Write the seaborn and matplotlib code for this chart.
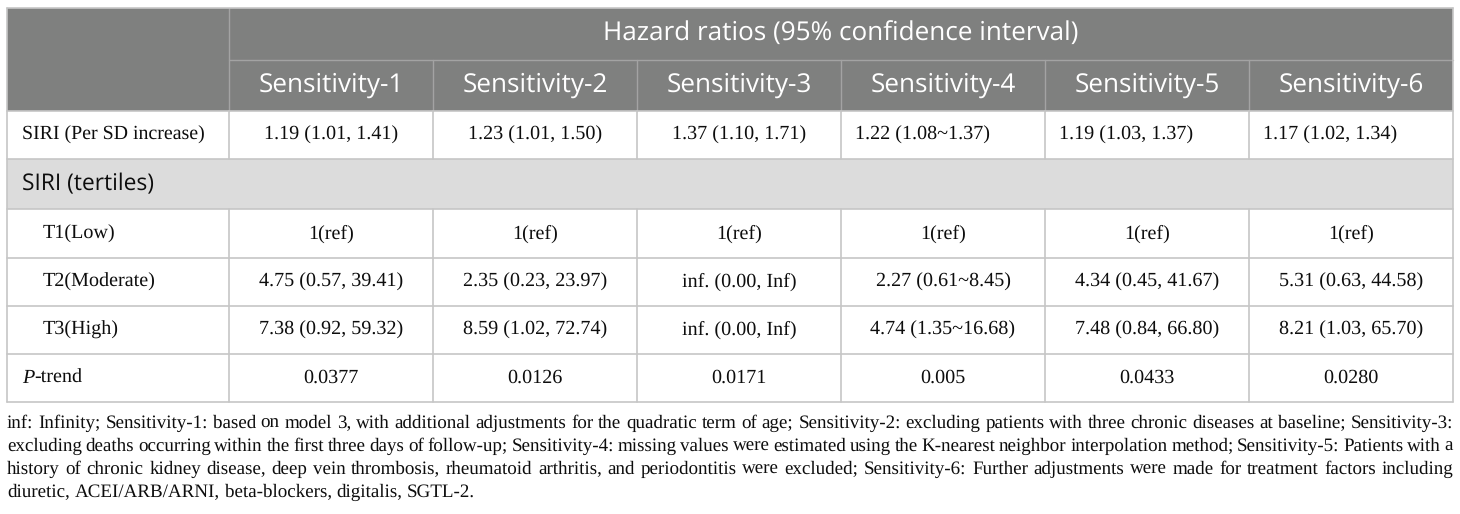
import matplotlib
matplotlib.use("Agg")
import matplotlib.pyplot as plt
from matplotlib.patches import Rectangle
import seaborn as sns

sns.set_theme(style="white")
plt.rcParams["text.hinting"] = "no_hinting"

# data
group_title = "Hazard ratios (95% confidence interval)"
models = ["Sensitivity-1", "Sensitivity-2", "Sensitivity-3",
          "Sensitivity-4", "Sensitivity-5", "Sensitivity-6"]
per_sd = ["1.19 (1.01, 1.41)", "1.23 (1.01, 1.50)", "1.37 (1.10, 1.71)",
          "1.22 (1.08~1.37)", "1.19 (1.03, 1.37)", "1.17 (1.02, 1.34)"]
section_label = "SIRI (tertiles)"
tertile_labels = ["T1(Low)", "T2(Moderate)", "T3(High)"]
t1 = ["1(ref)"] * 6
t2 = ["4.75 (0.57, 39.41)", "2.35 (0.23, 23.97)", "inf. (0.00, Inf)",
      "2.27 (0.61~8.45)", "4.34 (0.45, 41.67)", "5.31 (0.63, 44.58)"]
t3 = ["7.38 (0.92, 59.32)", "8.59 (1.02, 72.74)", "inf. (0.00, Inf)",
      "4.74 (1.35~16.68)", "7.48 (0.84, 66.80)", "8.21 (1.03, 65.70)"]
p_trend = ["0.0377", "0.0126", "0.0171", "0.005", "0.0433", "0.0280"]
footnote_lines = [
    "inf: Infinity; Sensitivity-1: based on model 3, with additional adjustments for the quadratic term of age; "
    "Sensitivity-2: excluding patients with three chronic diseases at baseline; Sensitivity-3:",
    "excluding deaths occurring within the first three days of follow-up; Sensitivity-4: missing values were "
    "estimated using the K-nearest neighbor interpolation method; Sensitivity-5: Patients with a",
    "history of chronic kidney disease, deep vein thrombosis, rheumatoid arthritis, and periodontitis were "
    "excluded; Sensitivity-6: Further adjustments were made for treatment factors including",
    "diuretic, ACEI/ARB/ARNI, beta-blockers, digitalis, SGTL-2.",
]

# layout (pixels)
W, H = 1460, 514
xs = [7, 229, 433, 637, 841, 1045, 1249, 1453]
ys = [8, 60, 111, 159, 209, 258, 306, 354, 402]
HEAD_BG = "#7f807f"
SEC_BG = "#dcdcdc"
LINE = "#c6c6c6"
HEAD_LINE = "#a3a3a3"
SANS = "Open Sans"
SERIF = "Liberation Serif"
TEXT = "#0d0d0d"
HEAD_FS = 18.8
BODY_FS = 14.5

fig = plt.figure(figsize=(W / 100, H / 100), dpi=100)
ax = fig.add_axes([0, 0, 1, 1])
ax.set_xlim(0, W)
ax.set_ylim(H, 0)
ax.axis("off")
renderer = fig.canvas.get_renderer()

# backgrounds
ax.add_patch(Rectangle((xs[0], ys[0]), xs[-1] - xs[0], ys[2] - ys[0], color=HEAD_BG, lw=0))
ax.add_patch(Rectangle((xs[0], ys[3]), xs[-1] - xs[0], ys[4] - ys[3], color=SEC_BG, lw=0))

# header lines
ax.plot([xs[1], xs[-1]], [ys[1], ys[1]], color=HEAD_LINE, lw=1)
ax.plot([xs[1], xs[1]], [ys[0], ys[2]], color=HEAD_LINE, lw=1)
for x in xs[2:-1]:
    ax.plot([x, x], [ys[1], ys[2]], color=HEAD_LINE, lw=1)

# body grid
for y in ys[2:]:
    ax.plot([xs[0], xs[-1]], [y, y], color=LINE, lw=1.2)
for x in xs[1:-1]:
    ax.plot([x, x], [ys[2], ys[3]], color=LINE, lw=1.2)
    ax.plot([x, x], [ys[4], ys[-1]], color=LINE, lw=1.2)
for x in (xs[0], xs[-1]):
    ax.plot([x, x], [ys[0], ys[-1]], color=LINE, lw=1.2)
ax.plot([xs[0], xs[-1]], [ys[0], ys[0]], color=LINE, lw=1.2)

def mid(a, b):
    return (a + b) / 2

# header text
ax.text(mid(xs[1], xs[-1]), mid(ys[0], ys[1]), group_title, ha="center", va="center",
        color="white", fontsize=HEAD_FS, family=SANS)
for i, m in enumerate(models):
    ax.text(mid(xs[i + 1], xs[i + 2]), mid(ys[1], ys[2]), m, ha="center", va="center",
            color="white", fontsize=HEAD_FS, family=SANS)

# per SD row
ax.text(xs[0] + 15, mid(ys[2], ys[3]), "SIRI (Per SD increase)", ha="left", va="center",
        fontsize=14.3, family=SERIF, color=TEXT)
for i, v in enumerate(per_sd):
    if i < 3:
        ax.text(mid(xs[i + 1], xs[i + 2]), mid(ys[2], ys[3]), v, ha="center", va="center",
                fontsize=BODY_FS, family=SERIF, color=TEXT)
    else:
        ax.text(xs[i + 1] + 14, mid(ys[2], ys[3]), v, ha="left", va="center",
                fontsize=BODY_FS, family=SERIF, color=TEXT)

# section row
ax.text(xs[0] + 15, mid(ys[3], ys[4]), section_label, ha="left", va="center",
        fontsize=16.4, family=SANS, color=TEXT)

# tertile rows
for r, (lab, vals) in enumerate(zip(tertile_labels, [t1, t2, t3])):
    yc = mid(ys[4 + r], ys[5 + r])
    ax.text(xs[0] + 36, yc, lab, ha="left", va="center", fontsize=BODY_FS, family=SERIF, color=TEXT)
    for i, v in enumerate(vals):
        ax.text(mid(xs[i + 1], xs[i + 2]), yc, v, ha="center", va="center",
                fontsize=BODY_FS, family=SERIF, color=TEXT)

# p-trend row
yc = mid(ys[7], ys[8])
tp = ax.text(xs[0] + 15, yc, "P", ha="left", va="center", fontsize=BODY_FS, family=SERIF,
             style="italic", color=TEXT)
pw = tp.get_window_extent(renderer).width
ax.text(xs[0] + 15 + pw, yc, "-trend", ha="left", va="center", fontsize=BODY_FS, family=SERIF, color=TEXT)
for i, v in enumerate(p_trend):
    ax.text(mid(xs[i + 1], xs[i + 2]), yc, v, ha="center", va="center",
            fontsize=BODY_FS, family=SERIF, color=TEXT)

# footnote: one text per word, justified across the table width
def text_width(s, fs):
    t = ax.text(0, 0, s, fontsize=fs, family=SERIF)
    w = t.get_window_extent(renderer).width
    t.remove()
    return w

span = xs[-1] - xs[0]
REF = 10.0
word_w = [[text_width(w, REF) for w in l.split(" ")] for l in footnote_lines]
space_ref = text_width("a a", REF) - text_width("aa", REF)
FOOT_FS = 15.0
while FOOT_FS > 11:
    k = FOOT_FS / REF
    gaps = [(span - k * sum(ws)) / (len(ws) - 1) for ws in word_w[:-1]]
    if min(gaps) >= 0.7 * space_ref * k:
        break
    FOOT_FS -= 0.1
k = FOOT_FS / REF
foot_base = [428, 451, 474, 497]
for li, line in enumerate(footnote_lines):
    words = line.split(" ")
    widths = [k * w for w in word_w[li]]
    if li < len(footnote_lines) - 1:
        gap = (span - sum(widths)) / (len(words) - 1)
    else:
        gap = space_ref * k
    x = xs[0]
    for w, ww in zip(words, widths):
        ax.text(x, foot_base[li], w, ha="left", va="baseline", fontsize=FOOT_FS,
                family=SERIF, color=TEXT)
        x += ww + gap

fig.savefig("out.png", dpi=100)
